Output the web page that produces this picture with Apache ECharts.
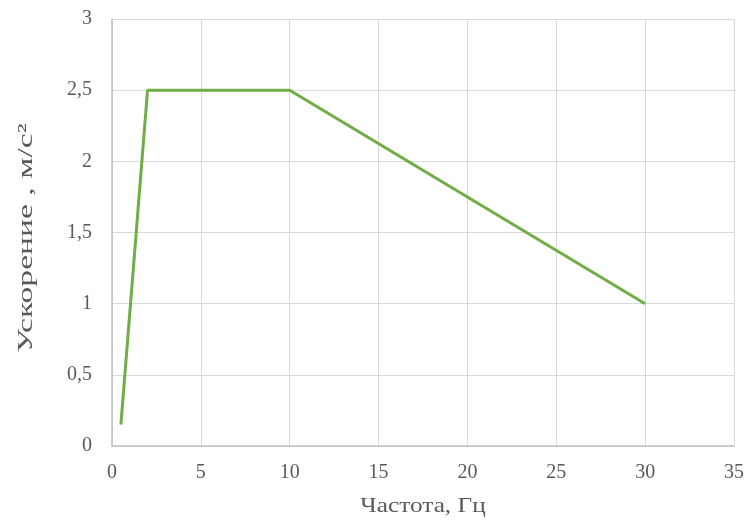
<!DOCTYPE html>
<html><head><meta charset="utf-8">
<script src="https://cdn.jsdelivr.net/npm/echarts@6/dist/echarts.min.js"></script>
<style>html,body{margin:0;padding:0;background:#fff}#c{width:747px;height:520px}</style>
</head><body><div id="c"></div>
<script>
const freq = [0.5, 2, 10, 30];
const accel = [0.15, 2.5, 2.5, 1.0];
const xTitle = 'Частота, Гц';
const yTitle = 'Ускорение , м/с²';

const chart = echarts.init(document.getElementById('c'));
const font = 'Liberation Serif';
chart.setOption({
  animation: false,
  grid: {left: 112, right: 12, top: 19, bottom: 74},
  xAxis: {
    type: 'value', min: 0, max: 35, interval: 5,
    axisLine: {show: true, lineStyle: {color: '#bfbfbf', width: 1.5}},
    axisTick: {show: false},
    axisLabel: {fontFamily: font, fontSize: 20, color: '#595959', margin: 17},
    splitLine: {show: true, lineStyle: {color: '#d9d9d9', width: 1}}
  },
  yAxis: {
    type: 'value', min: 0, max: 3, interval: 0.5,
    axisLine: {show: true, lineStyle: {color: '#bfbfbf', width: 1.5}},
    axisTick: {show: false},
    axisLabel: {fontFamily: font, fontSize: 20, color: '#595959', margin: 20,
      formatter: v => String(v).replace('.', ',')},
    splitLine: {show: true, lineStyle: {color: '#d9d9d9', width: 1}}
  },
  graphic: [
    {type: 'text', x: 423, y: 506, scaleX: 1.15,
      style: {text: xTitle, font: '22px "Liberation Serif"', fill: '#595959', align: 'center', verticalAlign: 'middle'}},
    {type: 'text', x: 26, y: 238, rotation: Math.PI / 2, scaleX: 1.6,
      style: {text: yTitle, font: '21px "Liberation Serif"', fill: '#595959', align: 'center', verticalAlign: 'middle'}}
  ],
  series: [{
    type: 'line',
    data: freq.map((f, i) => [f, accel[i]]),
    showSymbol: false,
    lineStyle: {color: '#70AD47', width: 3},
    itemStyle: {color: '#70AD47'}
  }]
});
</script></body></html>
